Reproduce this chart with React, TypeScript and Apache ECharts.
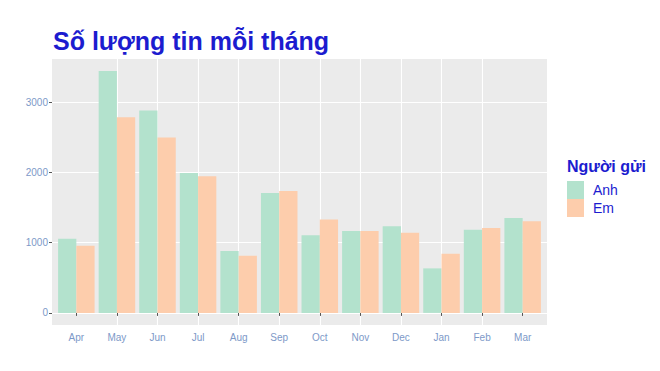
import React, { useEffect, useRef } from "react";
import * as echarts from "echarts";

const months = ["Apr", "May", "Jun", "Jul", "Aug", "Sep", "Oct", "Nov", "Dec", "Jan", "Feb", "Mar"];
const anh = [1057, 3444, 2880, 1991, 880, 1707, 1104, 1165, 1232, 634, 1185, 1350];
const em = [957, 2785, 2496, 1944, 815, 1735, 1328, 1165, 1142, 843, 1208, 1303];
const yTicks = [0, 1000, 2000, 3000];
const senders = ["Anh", "Em"];
const colors = ["#B3E2CD", "#FDCDAC"];
const titleText = "Số lượng tin mỗi tháng";
const legendTitle = "Người gửi";

const FONT = "Liberation Sans, Arial, sans-serif";
const BLUE = "#1c1ccf";
const AXIS_TXT = "#7d99c8";

export default function App() {
  const ref = useRef<HTMLDivElement>(null);
  useEffect(() => {
    if (!ref.current) return;
    const chart = echarts.init(ref.current, undefined, { renderer: "svg" });
    const xPos = months.map((_, i) => i + 1);
    const yMin = -172;
    const yMax = 3614;
    chart.setOption({
      animation: false,
      backgroundColor: "#ffffff",
      title: [
        {
          text: titleText,
          left: 48,
          top: 23,
          textStyle: { fontFamily: FONT, fontSize: 25, fontWeight: "bold", color: BLUE },
        },
        {
          text: legendTitle,
          left: 562,
          top: 153,
          textStyle: { fontFamily: FONT, fontSize: 16, fontWeight: "bold", color: BLUE },
        },
      ],
      legend: {
        data: senders,
        orient: "vertical",
        left: 562,
        top: 176,
        itemWidth: 17,
        itemHeight: 18,
        itemGap: 0,
        icon: "rect",
        textStyle: { fontFamily: FONT, fontSize: 14, color: BLUE, padding: [0, 0, 0, 4] },
      },
      grid: {
        left: 52,
        right: 113,
        top: 59,
        bottom: 46,
        show: true,
        backgroundColor: "#EBEBEB",
        borderWidth: 0,
      },
      xAxis: {
        type: "value",
        min: 0.4,
        max: 12.6,
        minInterval: 1,
        maxInterval: 1,
        axisLine: { show: false },
        axisTick: { show: true, length: 3, lineStyle: { color: "#555" }, customValues: xPos },
        axisLabel: {
          customValues: xPos,
          formatter: (v: number) => months[Math.round(v) - 1] ?? "",
          color: AXIS_TXT,
          fontFamily: FONT,
          fontSize: 10,
          margin: 7,
        },
        splitLine: { show: true, showMinLine: false, showMaxLine: false, lineStyle: { color: "#ffffff", width: 1.1 } },
      },
      yAxis: [
        {
          type: "value",
          min: yMin,
          max: yMax,
          minInterval: 500,
          maxInterval: 500,
          axisLine: { show: false },
          axisTick: { show: true, length: 3, lineStyle: { color: "#555" }, customValues: yTicks },
          axisLabel: {
            customValues: yTicks,
            formatter: (v: number) => (yTicks.includes(v) ? String(v) : ""),
            color: AXIS_TXT,
            fontFamily: FONT,
            fontSize: 10,
            margin: 4,
          },
          splitLine: { show: true, showMinLine: false, showMaxLine: false, lineStyle: { color: "#ffffff", width: 0.6 } },
        },
        {
          type: "value",
          min: yMin,
          max: yMax,
          minInterval: 1000,
          maxInterval: 1000,
          axisLine: { show: false },
          axisTick: { show: false },
          axisLabel: { show: false },
          splitLine: { show: true, showMinLine: false, showMaxLine: false, lineStyle: { color: "#ffffff", width: 1.1 } },
        },
      ],
      series: [anh, em].map((vals, s) => ({
        type: "bar",
        name: senders[s],
        yAxisIndex: 0,
        data: vals.map((v, i) => [xPos[i], v]),
        barGap: "0%",
        barCategoryGap: "10%",
        itemStyle: { color: colors[s] },
      })),
    });
    return () => chart.dispose();
  }, []);
  return <div ref={ref} style={{ width: 660, height: 371, margin: -8 }} />;
}
